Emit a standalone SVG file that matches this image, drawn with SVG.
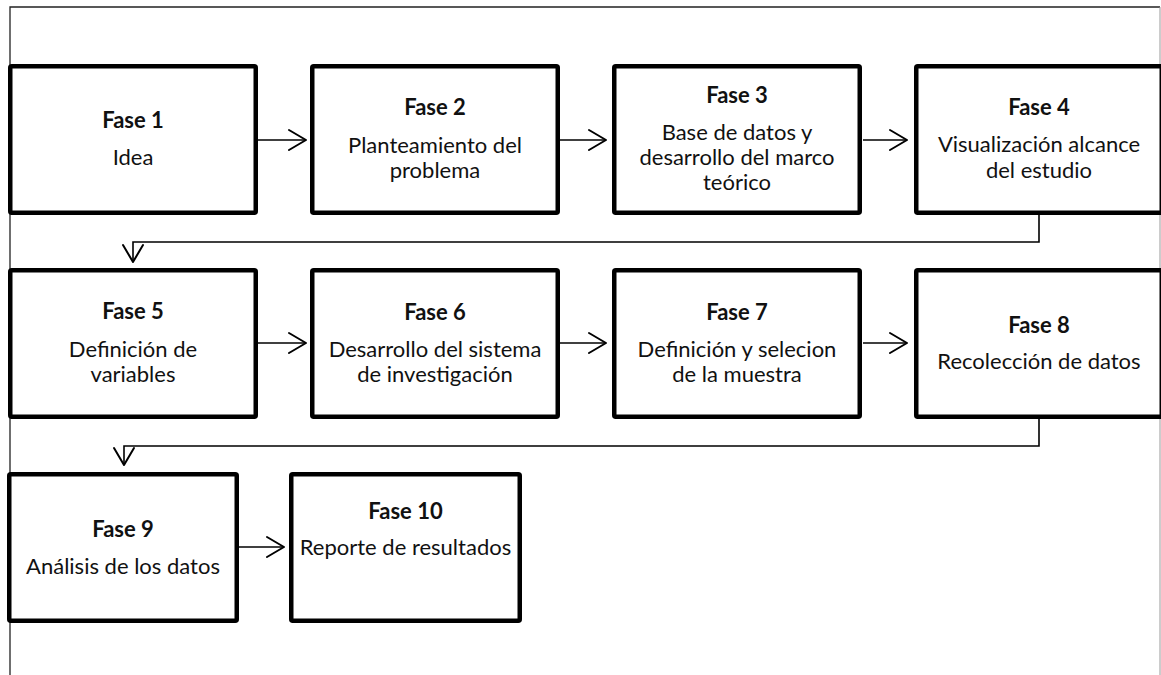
<svg xmlns="http://www.w3.org/2000/svg" width="1161" height="675" viewBox="0 0 1161 675">
<style>
.box{fill:#fff;stroke:#000;stroke-width:4.5;stroke-linejoin:round}
.t{font-family:Lato,"Liberation Sans",sans-serif;font-size:22px;fill:#111;text-anchor:middle}
.b{font-weight:bold}
.c{fill:none;stroke:#000;stroke-width:1.6}
.h{fill:none;stroke:#000;stroke-width:2;stroke-linecap:round;stroke-linejoin:round}
</style>
<rect width="1161" height="675" fill="#fff"/>
<g id="frame">
<path d="M10 675 V7 H1160" fill="none" stroke="#222" stroke-width="1.3"/>
<path d="M1160 7 V675" fill="none" stroke="#999" stroke-width="1"/>
</g>
<g id="connectors">
<path class="c" d="M258 140 H305"/><path class="h" d="M289 130 L306 140 L289 150"/>
<path class="c" d="M560 140 H606"/><path class="h" d="M589 130 L606 140 L589 150"/>
<path class="c" d="M863 140 H907"/><path class="h" d="M890 130 L907 140 L890 150"/>
<path class="c" d="M1039 215 V242 H133 V262"/><path class="h" d="M123 245 L133 262 L143 245"/>
<path class="c" d="M258 343 H305"/><path class="h" d="M289 333 L306 343 L289 353"/>
<path class="c" d="M560 343 H606"/><path class="h" d="M589 333 L606 343 L589 353"/>
<path class="c" d="M863 343 H907"/><path class="h" d="M890 333 L907 343 L890 353"/>
<path class="c" d="M1039 419 V446 H124 V465"/><path class="h" d="M114 448 L124 465 L134 448"/>
<path class="c" d="M239 547 H283"/><path class="h" d="M267 537 L284 547 L267 557"/>
</g>
<g id="fase1"><rect class="box" x="10.25" y="66.25" width="245.5" height="146.5" rx="1.5"/>
<text class="t b" x="133" y="128">Fase 1</text><text class="t" x="133" y="165">Idea</text></g>
<g id="fase2"><rect class="box" x="312.25" y="66.25" width="245.5" height="146.5" rx="1.5"/>
<text class="t b" x="435" y="115">Fase 2</text><text class="t" x="435" y="153">Planteamiento del</text><text class="t" x="435" y="178">problema</text></g>
<g id="fase3"><rect class="box" x="614.25" y="66.25" width="245.5" height="146.5" rx="1.5"/>
<text class="t b" x="737" y="103">Fase 3</text><text class="t" x="737" y="140">Base de datos y</text><text class="t" x="737" y="165">desarrollo del marco</text><text class="t" x="737" y="190">teórico</text></g>
<g id="fase4"><rect class="box" x="916.25" y="66.25" width="245.5" height="146.5" rx="1.5"/>
<text class="t b" x="1039" y="115">Fase 4</text><text class="t" x="1039" y="152">Visualización alcance</text><text class="t" x="1039" y="178">del estudio</text></g>
<g id="fase5"><rect class="box" x="10.25" y="270.25" width="245.5" height="146.5" rx="1.5"/>
<text class="t b" x="133" y="319">Fase 5</text><text class="t" x="133" y="357">Definición de</text><text class="t" x="133" y="382">variables</text></g>
<g id="fase6"><rect class="box" x="312.25" y="270.25" width="245.5" height="146.5" rx="1.5"/>
<text class="t b" x="435" y="320">Fase 6</text><text class="t" x="435" y="357">Desarrollo del sistema</text><text class="t" x="435" y="382">de investigación</text></g>
<g id="fase7"><rect class="box" x="614.25" y="270.25" width="245.5" height="146.5" rx="1.5"/>
<text class="t b" x="737" y="320">Fase 7</text><text class="t" x="737" y="357">Definición y selecion</text><text class="t" x="737" y="382">de la muestra</text></g>
<g id="fase8"><rect class="box" x="916.25" y="270.25" width="245.5" height="146.5" rx="1.5"/>
<text class="t b" x="1039" y="333">Fase 8</text><text class="t" x="1039" y="369">Recolección de datos</text></g>
<g id="fase9"><rect class="box" x="9.25" y="474.25" width="227.5" height="146.5" rx="1.5"/>
<text class="t b" x="123" y="537">Fase 9</text><text class="t" x="123" y="574">Análisis de los datos</text></g>
<g id="fase10"><rect class="box" x="291.25" y="474.25" width="228.5" height="146.5" rx="1.5"/>
<text class="t b" x="405.5" y="519">Fase 10</text><text class="t" x="405.5" y="555">Reporte de resultados</text></g>
</svg>
